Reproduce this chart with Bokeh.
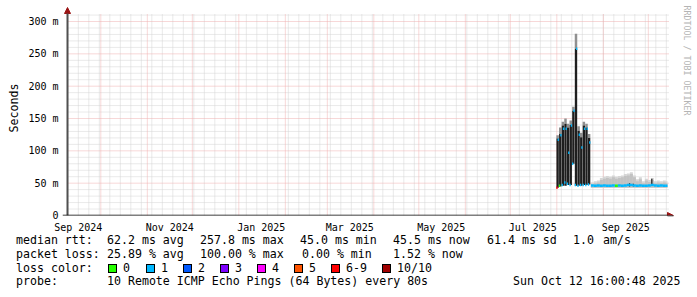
import math
import pandas as pd
from bokeh.plotting import figure
from bokeh.layouts import column
from bokeh.models import (Range1d, FixedTicker, Label, Arrow, NormalHead,
                          ColumnDataSource, Div)
from bokeh.embed import file_html
from bokeh.resources import INLINE

# ---------------- data ----------------
x_start = "2024-09-08 19:00"   # time at the left edge of the graph area
x_end = "2025-10-13 19:00"     # time at the right edge of the graph area
y_max = 312.4                  # ms at the top of the graph area

ytick_vals = [0, 50, 100, 150, 200, 250, 300]
ytick_labels = ["0", "50 m", "100 m", "150 m", "200 m", "250 m", "300 m"]
xtick_dates = ["2024-09-16", "2024-11-16", "2025-01-16", "2025-03-16",
               "2025-05-16", "2025-07-16", "2025-09-16"]
xtick_labels = ["Sep 2024", "Nov 2024", "Jan 2025", "Mar 2025",
                "May 2025", "Jul 2025", "Sep 2025"]

# high-variance period (ms)
blk_start = "2025-07-31 16:00"
blk_step_hours = 42
blk_lo = [43, 45, 46, 46, 47, 47, 80, 46, 46, 46, 47, 47, 48]
blk_hi = [119, 126, 139, 142, 136, 140, 162, 258, 131, 121, 139, 136, 120]
blk_top = [124, 136, 145, 150, 142, 147, 168, 281, 138, 128, 145, 142, 126]
blk_med_lo = [43, 46, 47, 51, 49, 47, 80, 47, 46, 47, 47, 47, 48]
blk_loss_lo = [6, 0, 1, 1, 1, 1, 1, 1, 1, 1, 1, 1, 1]
blk_med_hi = [117, 124, 134, 134, 97, 139, 162, 258, 125, 105, 134, 134, 113]
blk_loss_hi = [1, 1, 1, 1, 1, 1, 1, 1, 1, 1, 1, 1, 1]

# calm period (ms)
lt_start = "2025-08-23 17:00"
lt_step_hours = 48
lt_lo = [43, 43, 43, 43, 43, 43, 43, 43, 43, 43, 43, 43, 43,
         43, 43, 43, 43, 43, 43, 43, 43, 43, 43, 43, 43, 43]
lt_top = [51, 53, 54, 58, 60, 61, 60, 62, 60, 61, 62, 64, 65,
          67, 62, 56, 59, 53, 57, 55, 58, 53, 54, 53, 54, 53]
lt_med = [46.5, 46, 46.5, 46, 46.5, 46, 46, 46.5, 46, 46.5, 46, 46.5, 47,
          47, 46.5, 46, 46.5, 46, 46, 46.5, 47, 46.5, 46, 46.5, 46, 46]
lt_loss = [1, 1, 1, 1, 1, 1, 1, 1, 0, 1, 1, 1, 1,
           1, 1, 1, 1, 1, 1, 1, 1, 1, 1, 1, 1, 1]

dark_dates = ["2025-09-18 12:00", "2025-09-21 00:00", "2025-10-03 08:00"]
dark_lo = [45, 45, 46]
dark_hi = [50, 49, 57]

loss_keys = [0, 1, 2, 3, 4, 5, 6, 10]
loss_names = ["0", "1", "2", "3", "4", "5", "6-9", "10/10"]
loss_colors = ["#26ff00", "#00b8ff", "#0059ff", "#7e00ff",
               "#ff00ff", "#ff5500", "#ff0000", "#a00000"]

stats_rtt = ["median rtt:", "62.2 ms avg", "257.8 ms max", "45.0 ms min",
             "45.5 ms now", "61.4 ms sd", "1.0", "am/s"]
stats_loss = ["packet loss:", "25.89 % avg", "100.00 % max", "0.00 % min",
              "1.52 % now"]
probe_text = ["probe:", "10 Remote ICMP Echo Pings (64 Bytes) every 80s"]
stamp = "Sun Oct 12 16:00:48 2025"
watermark = "RRDTOOL / TOBI OETIKER"
y_title = "Seconds"

# ---------------- geometry helpers ----------------
def ms(s):
    return pd.Timestamp(s).value // 10**6


color_of = dict(zip(loss_keys, loss_colors))
HOUR = 3600 * 1000
FONT = "DejaVu Sans Mono"
W = 697
GL, GR, GT, GB = 67, 667, 13, 215          # graph area in canvas px
FL, FR, FT, FB = 62, 697, 0, 215           # bokeh frame in canvas px
H1 = 235                                   # height of the chart part
X0, X1 = ms(x_start), ms(x_end)
XPX = (X1 - X0) / (GR - GL)                # ms of time per pixel
YPX = y_max / (GB - GT)                    # ms of rtt per pixel


def dx(px):
    return X0 + (px - GL) * XPX


def dy(py):
    return (GB - py) * YPX


p = figure(frame_width=FR - FL, frame_height=FB - FT, x_axis_type="datetime",
           output_backend="svg", toolbar_location=None,
           min_border_left=FL, min_border_right=W - FR,
           min_border_top=FT, min_border_bottom=H1 - FB,
           x_range=Range1d(dx(FL), dx(FR)), y_range=Range1d(dy(FB), dy(FT)))
p.outline_line_color = None
p.background_fill_color = "white"
p.border_fill_color = "white"
p.xgrid.visible = False
p.ygrid.visible = False

# ---------------- grid (drawn inside the graph area only) ----------------
months = [ms(d) for d in pd.date_range("2024-10-01", "2025-10-01", freq="MS")]
weeks = [ms(d) for d in pd.date_range("2024-09-09", "2025-10-13", freq="7D")]
minor_y = [v for v in range(10, 320, 10) if v % 50]
major_y = [50, 100, 150, 200, 250, 300]
gtop, gx0, gx1 = dy(GT), dx(GL), dx(GR + 1)
p.segment(x0=weeks, y0=[0] * len(weeks), x1=weeks, y1=[gtop] * len(weeks),
          line_color="#d4d4d4", line_width=1, line_dash="1 1")
p.segment(x0=[gx0] * len(minor_y), y0=minor_y, x1=[gx1] * len(minor_y), y1=minor_y,
          line_color="#d4d4d4", line_width=1, line_dash="1 1")
p.segment(x0=months, y0=[0] * len(months), x1=months, y1=[gtop] * len(months),
          line_color="#efb0b0", line_width=1, line_dash="1 1")
p.segment(x0=[gx0] * len(major_y), y0=major_y, x1=[gx1] * len(major_y), y1=major_y,
          line_color="#efb0b0", line_width=1, line_dash="1 1")

# ---------------- axes (labels only; lines drawn as arrows) ----------------
xa = p.xaxis[0]
xa.ticker = FixedTicker(ticks=[ms(d) for d in xtick_dates])
xa.major_label_overrides = {ms(d): l for d, l in zip(xtick_dates, xtick_labels)}
xa.major_tick_line_color = None
xa.minor_tick_line_color = None
xa.axis_line_color = None
xa.major_label_standoff = 0
xa.major_label_text_font = FONT
xa.major_label_text_font_size = "10px"
xa.major_label_text_color = "black"

ya = p.yaxis[0]
ya.ticker = FixedTicker(ticks=ytick_vals)
ya.major_label_overrides = {v: l for v, l in zip(ytick_vals, ytick_labels)}
ya.major_tick_line_color = None
ya.minor_tick_line_color = None
ya.axis_line_color = None
ya.major_label_standoff = -2
ya.major_label_text_font = FONT
ya.major_label_text_font_size = "10px"
ya.major_label_text_color = "black"
ya.axis_label = y_title
ya.axis_label_text_font = FONT
ya.axis_label_text_font_size = "11.6px"
ya.axis_label_text_font_style = "normal"
ya.axis_label_text_color = "black"
ya.axis_label_standoff = 4

# ---------------- smoke: calm period ----------------
lt_t = pd.date_range(pd.Timestamp(lt_start), periods=len(lt_top), freq=f"{lt_step_hours}h")
lt_w = lt_step_hours * HOUR
lt_src = ColumnDataSource(dict(
    x=[ms(t) + lt_w / 2 for t in lt_t],
    x0=[ms(t) for t in lt_t],
    x1=[min(ms(t) + lt_w, dx(GR)) for t in lt_t],
    lo=lt_lo, top=lt_top,
    mid=[t - 3 for t in lt_top],
    med=lt_med,
    col=[color_of[k] for k in lt_loss]))
p.quad(left="x0", right="x1", bottom="lo", top="top", source=lt_src,
       fill_color="#d6d6d6", line_color=None)
p.quad(left="x0", right="x1", bottom="lo", top="mid", source=lt_src,
       fill_color="#c2c2c2", line_color=None)

dk_src = ColumnDataSource(dict(x=[ms(d) for d in dark_dates], lo=dark_lo, hi=dark_hi))
p.vbar(x="x", width=20 * HOUR, bottom="lo", top="hi", source=dk_src,
       fill_color="#202020", line_color=None)

# ---------------- smoke: high variance ----------------
bk_t = pd.date_range(pd.Timestamp(blk_start), periods=len(blk_hi), freq=f"{blk_step_hours}h")
bk_w = blk_step_hours * HOUR
bk_src = ColumnDataSource(dict(
    x=[ms(t) + bk_w / 2 for t in bk_t],
    lo=blk_lo, hi=blk_hi, top=blk_top))
p.vbar(x="x", width=bk_w * 0.95, bottom="hi", top="top", source=bk_src,
       fill_color="#909090", line_color=None)
p.vbar(x="x", width=bk_w * 0.9, bottom="lo", top="hi", source=bk_src,
       fill_color="#1e1e1e", line_color=None)

# ---------------- medians ----------------
med_src = ColumnDataSource(dict(
    x0=[ms(t) for t in bk_t] + [ms(t) + bk_w / 2 for t in bk_t],
    x1=[ms(t) + bk_w / 2 for t in bk_t] + [ms(t) + bk_w for t in bk_t],
    y=blk_med_lo + blk_med_hi,
    col=[color_of[k] for k in blk_loss_lo] + [color_of[k] for k in blk_loss_hi]))
p.segment(x0="x0", y0="y", x1="x1", y1="y", source=med_src,
          line_color="col", line_width=2.5)
p.segment(x0="x0", y0="med", x1="x1", y1="med", source=lt_src,
          line_color="col", line_width=2.5)

# ---------------- axis lines with arrow heads ----------------
head = dict(size=6, fill_color="#9a1414", line_color="#9a1414")
p.add_layout(Arrow(x_start=dx(GL), y_start=0, x_end=dx(GL), y_end=dy(7),
                   line_color="#505050", line_width=2, end=NormalHead(**head)))
p.add_layout(Arrow(x_start=dx(62), y_start=0, x_end=dx(673), y_end=0,
                   line_color="black", line_width=1.5, end=NormalHead(**head)))

p.add_layout(Label(x=dx(686), y=dy(5), text=watermark, text_font=FONT,
                   text_font_size="8.3px", text_color="#b4b4b4",
                   text_baseline="middle", text_align="left",
                   angle=-math.pi / 2))

# ---------------- legend / statistics part (HTML below the chart) ----------------
H2 = 297 - H1
r1, r2, r3, r4 = 241.5, 255.0, 269.0, 282.7
LINE_H = 14
spans = []


def put(px, py, s):
    top = py + 2.5 - 11 - H1        # baseline a little under the glyph centre
    spans.append(f'<span style="position:absolute;left:{px}px;top:{top:.1f}px;'
                 f'line-height:{LINE_H}px;white-space:pre;">{s}</span>')


for xpos, s in zip([16, 107, 200, 300, 393, 487, 573, 603], stats_rtt):
    put(xpos, r1, s)
for xpos, s in zip([16, 107, 200, 302, 393], stats_loss):
    put(xpos, r2, s)
put(16, r3, "loss color:")
box_x = [108, 146, 183, 220, 257, 294, 331, 382]
for bx, name, c in zip(box_x, loss_names, loss_colors):
    spans.append(f'<span style="position:absolute;left:{bx}px;top:{r3 - 5 - H1:.1f}px;'
                 f'width:9px;height:9px;box-sizing:border-box;background:{c};'
                 f'border:1px solid #000;"></span>')
    put(bx + 15, r3, name)
put(16, r4, probe_text[0])
put(107, r4, probe_text[1])
put(513, r4, stamp)

legend_html = (f'<div style="position:relative;width:{W}px;height:{H2}px;margin:0;'
               f'padding:0;background:#fff;color:#000;font-family:\'{FONT}\';'
               f'font-size:11.6px;">' + "".join(spans) + '</div>')
legend = Div(text=legend_html, width=W, height=H2, margin=(0, 0, 0, 0))

open("out.html", "w").write(file_html(column(p, legend, spacing=0), INLINE))
